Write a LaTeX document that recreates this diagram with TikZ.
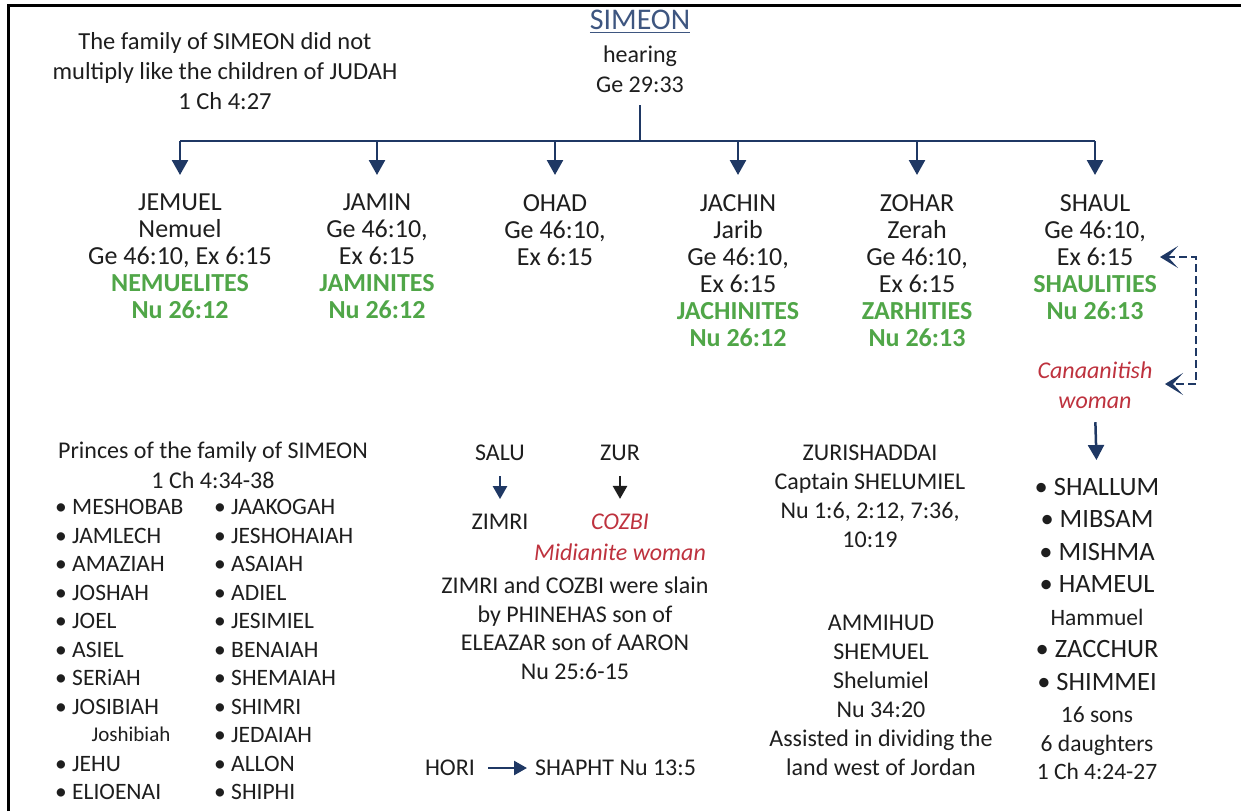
\documentclass[tikz,border=0pt]{standalone}
\usepackage{fontspec}
\setmainfont{Carlito}
\usetikzlibrary{arrows.meta}

\definecolor{ink}{RGB}{30,30,30}
\definecolor{navy}{RGB}{31,56,100}
\definecolor{leaf}{RGB}{80,166,72}
\definecolor{rust}{RGB}{190,50,62}
\definecolor{slate}{RGB}{62,86,128}

\newcommand{\clan}[1]{{\color{leaf}\bfseries #1}}
\newcommand{\minor}{\fontsize{23.5}{28}\selectfont}
\newsavebox{\namebox}
\newcommand{\headline}[1]{\sbox{\namebox}{#1}\rlap{\raisebox{-3.5pt}{\rule{\wd\namebox}{1.6pt}}}\usebox{\namebox}}

\tikzset{
    txt/.style={align=center, inner sep=0pt, text=ink, font=\fontsize{24}{29}\selectfont},
    son/.style={txt, anchor=north, font=\fontsize{26}{27}\selectfont},
    foreign/.style={txt, text=rust, font=\fontsize{24}{30}\selectfont\itshape},
    item/.style={inner sep=0pt, text=ink, anchor=base west, font=\fontsize{23.5}{28}\selectfont},
    rim/.style={black, line width=3pt},
    bar/.style={navy, line width=2.5pt},
    drop/.style={navy, line width=2.5pt, -{Triangle[width=16pt,length=15pt]}},
    smalldrop/.style={line width=2.5pt, -{Triangle[width=14pt,length=13pt]}},
    dashlink/.style={navy, line width=2.5pt, dash pattern=on 8pt off 4pt,
        {Stealth[length=18pt,width=22pt,inset=10pt]}-{Stealth[length=18pt,width=22pt,inset=10pt]}}
}

\begin{document}
\begin{tikzpicture}[x=1pt,y=-1pt]
    \useasboundingbox (0,0) rectangle (1241,811);
    \draw[rim] (8,811) -- (8,5) -- (1241,5);

    % head of the tribe
    \node[txt, anchor=north, font=\fontsize{24.5}{30}\selectfont] (note) at (225,32)
        {The family of SIMEON did not\\multiply like the children of JUDAH\\1 Ch 4:27};
    \node[txt, text=slate, font=\fontsize{30}{36}\selectfont] (simeon) at (640,22) {\headline{SIMEON}};
    \node[txt, anchor=north, font=\fontsize{24}{30}\selectfont] (meaning) at (640,46) {hearing\\Ge 29:33};
    \coordinate (fork) at (640,141);

    % sons
    \node[son] (jemuel) at (180,194)
        {JEMUEL\\Nemuel\\Ge 46:10, Ex 6:15\\\clan{NEMUELITES}\\\clan{Nu 26:12}};
    \node[son] (jamin) at (377,194)
        {JAMIN\\Ge 46:10,\\Ex 6:15\\\clan{JAMINITES}\\\clan{Nu 26:12}};
    \node[son] (ohad) at (555,194) {OHAD\\Ge 46:10,\\Ex 6:15};
    \node[son] (jachin) at (738,194)
        {JACHIN\\Jarib\\Ge 46:10,\\Ex 6:15\\\clan{JACHINITES}\\\clan{Nu 26:12}};
    \node[son] (zohar) at (917,194)
        {ZOHAR\\Zerah\\Ge 46:10,\\Ex 6:15\\\clan{ZARHITIES}\\\clan{Nu 26:13}};
    \node[son] (shaul) at (1095,194)
        {SHAUL\\Ge 46:10,\\Ex 6:15\\\clan{SHAULITIES}\\\clan{Nu 26:13}};

    \draw[bar] (meaning.south) ++(0,12) -- (fork);
    \draw[bar] (jemuel |- fork) -- (shaul |- fork);
    \foreach \s in {jemuel,jamin,ohad,jachin,zohar,shaul}
        \draw[drop] (\s |- fork) -- ++(0,34);

    % shaul and the canaanitish woman
    \node[foreign, anchor=north] (canaan) at (1095,362) {Canaanitish\\woman};
    \coordinate (shaulref) at (1160,257);
    \coordinate (wiferef) at (1165,384);
    \draw[dashlink] (shaulref) -- ++(36,0) |- (wiferef);
    \node[txt, anchor=north, font=\fontsize{26.5}{32.5}\selectfont] (kids) at (1097,478)
        {• SHALLUM\\• MIBSAM\\• MISHMA\\• HAMEUL\\{\minor Hammuel}\\• ZACCHUR\\• SHIMMEI\\
         {\minor 16 sons}\\[-4pt]{\minor 6 daughters}\\[-4pt]{\minor 1 Ch 4:24-27}};
    \draw[navy, smalldrop, -{Triangle[width=16pt,length=15pt]}, shorten <=13pt, shorten >=18pt]
        (canaan.south) -- (kids.north);

    % princes
    \node[txt, anchor=north, font=\fontsize{24}{30}\selectfont] (princes) at (213,442)
        {Princes of the family of SIMEON\\1 Ch 4:34-38};
    \foreach \nm [count=\i from 0] in {MESHOBAB,JAMLECH,AMAZIAH,JOSHAH,JOEL,ASIEL,SERiAH,JOSIBIAH}
        \node[item] (pl\i) at (55,{514.5+28.5*\i}) {• \nm};
    \node[item, anchor=base, font=\fontsize{21}{25}\selectfont] (pl8) at (131,741) {Joshibiah};
    \node[item] (pl9) at (55,771) {• JEHU};
    \node[item] (pl10) at (55,799.5) {• ELIOENAI};
    \foreach \nm [count=\i from 0] in {JAAKOGAH,JESHOHAIAH,ASAIAH,ADIEL,JESIMIEL,BENAIAH,
        SHEMAIAH,SHIMRI,JEDAIAH,ALLON,SHIPHI}
        \node[item] (pr\i) at (214,{514.5+28.5*\i}) {• \nm};

    % zimri and cozbi
    \node[txt] (salu) at (500,453) {SALU};
    \node[txt] (zur) at (620,453) {ZUR};
    \node[txt] (zimri) at (500,522) {ZIMRI};
    \node[foreign] (cozbi) at (620,522) {COZBI};
    \node[foreign] (midian) at (620,552) {Midianite woman};
    \draw[navy, smalldrop, shorten <=15pt, shorten >=15pt] (salu.south) -- (zimri.north);
    \draw[ink, smalldrop, shorten <=15pt, shorten >=15pt] (zur.south) -- (cozbi.north);
    \node[txt, anchor=north, font=\fontsize{24}{28.5}\selectfont] (slain) at (575,577)
        {ZIMRI and COZBI were slain\\by PHINEHAS son of\\ELEAZAR son of AARON\\Nu 25:6-15};

    \node[txt] (hori) at (450,768) {HORI};
    \node[txt, anchor=west] (shapht) at (535,768) {SHAPHT Nu 13:5};
    \draw[navy, smalldrop, shorten <=13pt, shorten >=8pt] (hori.east) -- (shapht.west);

    % leaders
    \node[txt, anchor=north] (zuri) at (870,445)
        {ZURISHADDAI\\Captain SHELUMIEL\\Nu 1:6, 2:12, 7:36,\\10:19};
    \node[txt, anchor=north] (ammihud) at (881,615)
        {AMMIHUD\\SHEMUEL\\Shelumiel\\Nu 34:20\\Assisted in dividing the\\land west of Jordan};
\end{tikzpicture}
\end{document}
